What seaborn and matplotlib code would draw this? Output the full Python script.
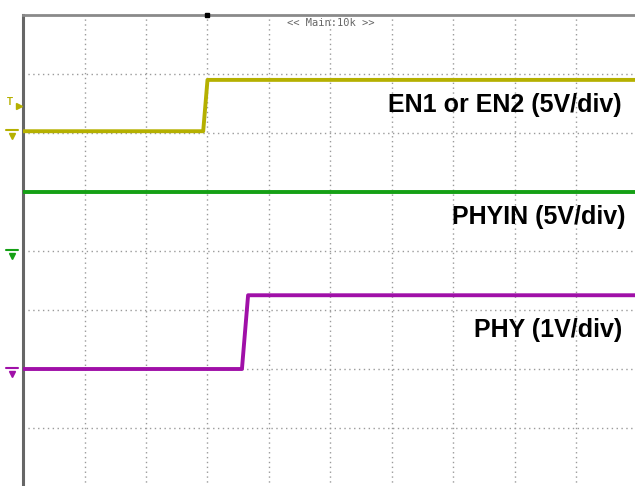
import matplotlib
matplotlib.use("Agg")
import matplotlib.pyplot as plt
import matplotlib.transforms as mtransforms
import seaborn as sns
import pandas as pd
import numpy as np

# ---- data (time in horizontal divisions, voltages in volts) ----
en_t = [0.0, 2.93, 3.0, 10.0]
en_v = [0.0, 0.0, 4.35, 4.35]
phyin_t = [0.0, 10.0]
phyin_v = [5.0, 5.0]
phy_t = [0.0, 3.56, 3.66, 10.0]
phy_v = [0.0, 0.0, 1.25, 1.25]

channels = ["EN1 or EN2 (5V/div)", "PHYIN (5V/div)", "PHY (1V/div)"]
volts_per_div = [5.0, 5.0, 1.0]
ground_div = [6.03, 4.0, 2.0]
colors = ["#b5b000", "#15a015", "#a010a8"]
label_y = [6.47, 4.58, 2.66]
label_x = [9.74, 9.79, 9.74]
trigger_level_div = 6.5
trigger_time = 3.0
header = "<< Main:10k >>"

frames = []
for name, t, v, s, g in zip(channels, [en_t, phyin_t, phy_t], [en_v, phyin_v, phy_v],
                            volts_per_div, ground_div):
    frames.append(pd.DataFrame({"t": t, "y": np.array(v) / s + g, "ch": name}))
df = pd.concat(frames, ignore_index=True)

sns.set_style("white")
plt.rcParams["font.family"] = ["Liberation Sans", "DejaVu Sans"]

W, H = 635, 486
fig = plt.figure(figsize=(W / 100, H / 100), dpi=100)
ax = fig.add_axes([23 / W, (486 - 487) / H, 615 / W, 472 / H])
ax.set_xlim(0, 10)
ax.set_ylim(0, 8)

# graticule
for x in range(1, 10):
    ax.axvline(x, color="#9a9a9a", lw=1.0, ls=(0, (1, 2.5)), zorder=1)
for y in range(1, 8):
    ax.axhline(y, color="#9a9a9a", lw=1.0, ls=(0, (1, 2.5)), zorder=1)

sns.lineplot(data=df, x="t", y="y", hue="ch", palette=colors,
             hue_order=channels, lw=2.8, legend=False, ax=ax, zorder=3,
             estimator=None, sort=False)

ax.set_xticks([])
ax.set_yticks([])
ax.set_xlabel("")
ax.set_ylabel("")
for s in ["right", "bottom"]:
    ax.spines[s].set_visible(False)
ax.spines["left"].set_color("#666666")
ax.spines["left"].set_linewidth(2.2)
ax.spines["top"].set_color("#8a8a8a")
ax.spines["top"].set_linewidth(2.0)

# labels
for name, lx, ly in zip(channels, label_x, label_y):
    ax.text(lx, ly, name, ha="right", va="center", fontsize=18,
            fontweight="bold", color="black", zorder=5)

ax.text(5.0, 7.86, header, ha="center", va="center", fontsize=7.5,
        family="DejaVu Sans Mono", color="#666666")

# trigger position marker on top border
ax.plot([trigger_time], [8], marker="s", ms=3, color="black", clip_on=False, zorder=6)

# channel ground markers and trigger level marker at left
trans = mtransforms.blended_transform_factory(ax.transAxes, ax.transData)
for g, c in zip(ground_div, colors):
    ax.plot([-0.028, -0.008], [g + 0.02, g + 0.02], color=c, lw=1.5,
            transform=trans, clip_on=False, zorder=6)
    ax.plot([-0.018], [g - 0.08], marker="v", ms=5, color=c,
            transform=trans, clip_on=False, zorder=6)
ax.text(-0.022, trigger_level_div + 0.03, "T", ha="center", va="center", fontsize=7,
        fontweight="bold", color=colors[0], transform=trans, clip_on=False)
ax.plot([-0.007], [trigger_level_div - 0.05], marker=">", ms=4, color=colors[0],
        transform=trans, clip_on=False, zorder=6)

fig.savefig("out.png", dpi=100)
